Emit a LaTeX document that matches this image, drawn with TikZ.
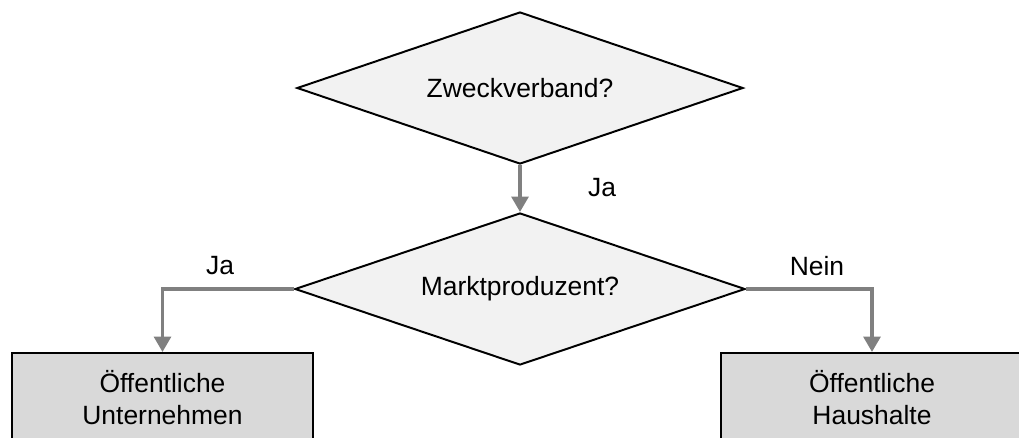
\documentclass[tikz,border=0pt]{standalone}
\usepackage{fontspec}
\setmainfont{Liberation Sans}
\usepackage{xcolor}
\usepackage{tikz}
\usetikzlibrary{shapes.geometric,arrows.meta}
\definecolor{fragefill}{HTML}{F2F2F2}
\definecolor{sektorfill}{HTML}{D9D9D9}
\definecolor{pfeilgrau}{HTML}{808080}

\begin{document}
\begin{tikzpicture}[x=0.025cm,y=-0.025cm,
 frage/.style={diamond, aspect=3, draw=black, fill=fragefill, line width=1.4pt, minimum width=11.15cm, minimum height=3.8cm, inner sep=0pt, font=\fontsize{18.8}{22.7}\selectfont},
 sektor/.style={rectangle, draw=black, fill=sektorfill, line width=1.4pt, minimum width=7.525cm, minimum height=2.225cm, anchor=north, align=center, inner sep=0pt, font=\fontsize{18.8}{22.7}\selectfont},
 pfeil/.style={draw=pfeilgrau, line width=2.5pt, -{Triangle[length=11pt,width=12pt]}},
 antwort/.style={inner sep=0pt, font=\fontsize{18.8}{22.7}\selectfont}]
\useasboundingbox (0,0) rectangle (1019,437);
\node[frage] (zweck) at (520,88) {Zweckverband?};
\node[frage, minimum width=11.25cm] (markt) at (520,289) {Marktproduzent?};
\node[sektor] (unternehmen) at (162.5,352) {Öffentliche\\Unternehmen};
\node[sektor] (haushalte) at (872,352) {Öffentliche\\Haushalte};
\draw[pfeil] (zweck.south) -- (markt.north);
\draw[pfeil] (markt.west) -| (unternehmen.north);
\draw[pfeil] (markt.east) -| (haushalte.north);
\node[antwort] (jaoben) at (602,188) {Ja};
\node[antwort] (jalinks) at (220,266) {Ja};
\node[antwort] (nein) at (817,266) {Nein};
\end{tikzpicture}
\end{document}
